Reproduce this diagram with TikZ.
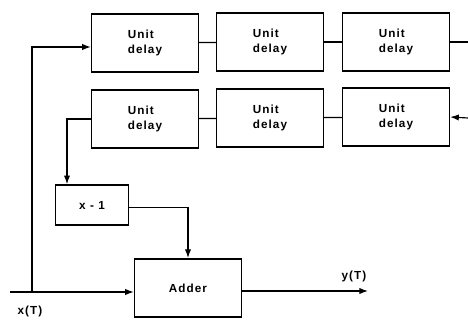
\documentclass[tikz,border=0pt]{standalone}
\usepackage{fontspec}
\newfontfamily\blockfont[LetterSpace=9]{Liberation Sans}
\usetikzlibrary{arrows.meta, positioning, calc}

\begin{document}
\begin{tikzpicture}[
    x=0.03cm, y=-0.03cm,
    font=\blockfont\bfseries\fontsize{10}{13.5}\selectfont,
    delaybox/.style={
        draw, line width=1.4pt,
        minimum width=3.2cm, minimum height=1.75cm,
        align=left, inner sep=2pt
    },
    smallbox/.style={
        draw, line width=1.4pt,
        minimum width=2.2cm, minimum height=1.2cm
    },
    sumbox/.style={
        draw, line width=1.4pt,
        minimum width=3.2cm, minimum height=1.75cm
    },
    wire/.style={
        line width=1pt
    },
    arrow/.style={
        -{Latex[length=2.6mm, width=1.9mm]}, line width=1pt
    },
    siglabel/.style={
        inner sep=1pt
    }
]
\useasboundingbox (0,0) rectangle (468,321);

% --- upper row of delays ---
\node[delaybox] (d1) at (145,43)  {Unit\\delay};
\node[delaybox] (d2) at (270,42)  {Unit\\delay};
\node[delaybox] (d3) at (396,42)  {Unit\\delay};

% --- lower row of delays ---
\node[delaybox] (d4) at (145,119) {Unit\\delay};
\node[delaybox] (d5) at (270,118) {Unit\\delay};
\node[delaybox] (d6) at (396,117) {Unit\\delay};

% --- inverse block and adder ---
\node[smallbox] (zin)   at (92,205)  {x - 1};
\node[sumbox]   (adder) at (188,288) {Adder};

% --- signal ends ---
\coordinate (xin)  at (10,292);
\coordinate (tap)  at (32,292);
\coordinate (tr)   at (468,42);
\coordinate (br)   at (468,118);
\coordinate (yout) at (368,291);
\node[siglabel] (xlab) at (30,311)  {x(T)};
\node[siglabel] (ylab) at (354,276) {y(T)};

% --- input feeds the adder and the first delay ---
\draw[arrow] (xin) -- (adder.west |- xin);
\draw[arrow] (tap) |- ([yshift=-0.12cm]d1.west);

% --- chains between delays ---
\draw[wire] (d1) -- (d2);
\draw[wire] (d2) -- (d3);
\draw[wire] (d3.east) -- (tr);
\draw[wire] (d4) -- (d5);
\draw[wire] (d5) -- (d6);
\draw[arrow] (br) -- (d6.east);

% --- lower chain through x-1 into the adder ---
\draw[arrow] (d4.west) -| ([xshift=-0.75cm]zin.north);
\draw[arrow] ([yshift=-0.08cm]zin.east) -| (adder.north);

% --- output ---
\draw[arrow] (adder.east |- yout) -- (yout);

\end{tikzpicture}
\end{document}
